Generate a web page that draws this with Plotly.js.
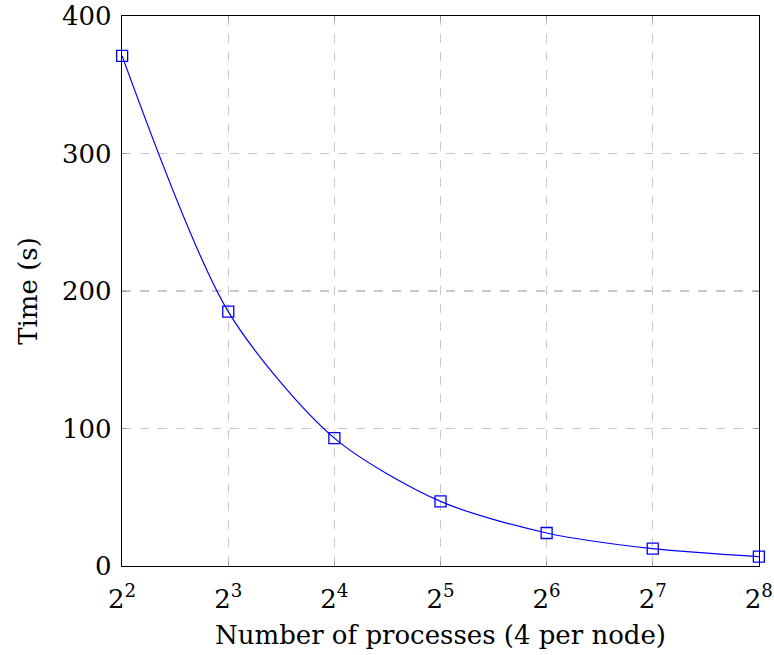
<!DOCTYPE html>
<html>
<head>
<meta charset="utf-8">
<script src="https://cdn.plot.ly/plotly-3.0.1.min.js"></script>
<style>
  html, body { margin: 0; padding: 0; background: #fff; }
  #chart { width: 774px; height: 655px; }
</style>
</head>
<body>
<div id="chart"></div>
<script>
// Strong-scaling run: wall time against process count
const processes = [4, 8, 16, 32, 64, 128, 256];
const timeSeconds = [371, 185, 93, 47, 24, 12.6, 6.8];
const xTickLabels = ['2<sup>2</sup>', '2<sup>3</sup>', '2<sup>4</sup>', '2<sup>5</sup>', '2<sup>6</sup>', '2<sup>7</sup>', '2<sup>8</sup>'];
const yTicks = [0, 100, 200, 300, 400];

const serif = '"DejaVu Serif", "Liberation Serif", serif';

const trace = {
  x: processes,
  y: timeSeconds,
  type: 'scatter',
  mode: 'lines+markers',
  line: { color: '#0000ff', width: 1.2, shape: 'spline', smoothing: 0.8 },
  marker: { symbol: 'square-open', size: 11, color: '#0000ff', line: { width: 1.3 } },
  cliponaxis: false,
  showlegend: false
};

const axisCommon = {
  showline: true,
  linecolor: '#000',
  linewidth: 1.2,
  mirror: 'ticks',
  ticks: 'inside',
  ticklen: 5,
  tickcolor: '#999',
  showgrid: true,
  gridcolor: '#c8c8c8',
  gridwidth: 1.2,
  griddash: 'dash',
  zeroline: false,
  tickfont: { family: serif, size: 26, color: '#000' }
};

// tiny padding so the end points sit exactly on the frame and stay drawn
const pad = 0.0004;

const layout = {
  width: 774,
  height: 655,
  margin: { l: 122, r: 15, t: 16, b: 89 },
  paper_bgcolor: '#fff',
  plot_bgcolor: '#fff',
  font: { family: serif, color: '#000' },
  xaxis: Object.assign({}, axisCommon, {
    type: 'log',
    range: [Math.log10(processes[0]) - pad, Math.log10(processes[processes.length - 1]) + pad],
    tickmode: 'array',
    tickvals: processes,
    ticktext: xTickLabels,
    ticklabelstandoff: 10,
    title: { text: 'Number of processes (4 per node)', font: { family: serif, size: 26 }, standoff: 12 }
  }),
  yaxis: Object.assign({}, axisCommon, {
    range: [0, 400],
    tickmode: 'array',
    tickvals: yTicks,
    ticktext: yTicks.map(String),
    ticklabelstandoff: 4,
    title: { text: 'Time (s)', font: { family: serif, size: 26 }, standoff: 16 }
  })
};

Plotly.newPlot('chart', [trace], layout, { displayModeBar: false, staticPlot: true });
</script>
</body>
</html>
